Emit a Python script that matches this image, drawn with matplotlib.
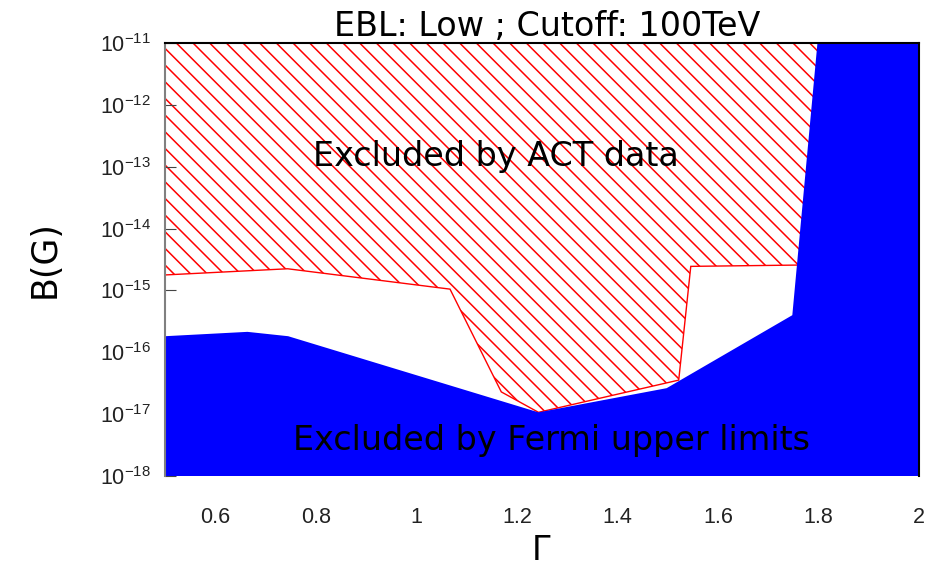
import numpy as np
import matplotlib
matplotlib.use("Agg")
import matplotlib.pyplot as plt
from matplotlib.ticker import FixedLocator, FuncFormatter

# Fermi-Grenze (blaue Flaeche, Obergrenze)
fermi_gamma = [0.5, 0.664, 0.745, 1.243, 1.498, 1.748, 1.798, 2.0]
fermi_B = [1.82e-16, 2.14e-16, 1.82e-16, 1.07e-17, 2.63e-17, 3.98e-16, 1e-11, 1e-11]

# ACT-Grenze (schraffierte Flaeche, Untergrenze)
act_gamma = [0.5, 0.744, 1.067, 1.169, 1.243, 1.522, 1.546, 1.756, 1.85]
act_B = [1.78e-15, 2.24e-15, 1.05e-15, 2.29e-17, 1.07e-17, 3.55e-17, 2.45e-15, 2.57e-15, 2.57e-15]

x_ticks = [0.6, 0.8, 1.0, 1.2, 1.4, 1.6, 1.8, 2.0]
x_labels = ['0.6', '0.8', '1', '1.2', '1.4', '1.6', '1.8', '2']
y_exps = [-18, -17, -16, -15, -14, -13, -12, -11]

y_min, y_max = 1e-18, 1e-11

plt.rcParams['hatch.linewidth'] = 1.1

fig = plt.figure(figsize=(9.44, 5.66), dpi=100)
ax = fig.add_axes([0.1748, 0.159, 0.7987, 0.765])
ax.set_yscale('log')
ax.set_xlim(0.5, 2.0)
ax.set_ylim(y_min, y_max)

# ACT-Polygon: Untergrenze und dann oben zurueck
act_x = act_gamma + [act_gamma[-1], act_gamma[0]]
act_y = act_B + [y_max, y_max]
ax.fill(act_x, act_y, facecolor='white', edgecolor='red', hatch='\\\\',
        linewidth=1.0, zorder=1)

# Fermi-Polygon: Obergrenze und dann unten zurueck
f_x = fermi_gamma + [fermi_gamma[-1], fermi_gamma[0]]
f_y = fermi_B + [y_min, y_min]
ax.fill(f_x, f_y, facecolor='blue', edgecolor='none', zorder=2)

ax.text(1.159, 1.45e-13, 'Excluded by ACT data', fontsize=24,
        family='DejaVu Sans', ha='center', va='center', zorder=3)
ax.text(1.269, 3.8e-18, 'Excluded by Fermi upper limits', fontsize=24,
        family='DejaVu Sans', ha='center', va='center', zorder=3)

# Achsen
ax.xaxis.set_major_locator(FixedLocator(x_ticks))
ax.set_xticklabels(x_labels)
ax.yaxis.set_major_locator(FixedLocator([10.0 ** e for e in y_exps]))
ax.yaxis.set_major_formatter(FuncFormatter(
    lambda v, p: r'$\mathregular{10^{%d}}$' % int(round(np.log10(v)))))
ax.yaxis.set_minor_locator(FixedLocator([]))
ax.xaxis.set_minor_locator(FixedLocator([]))

for lab in ax.get_xticklabels() + ax.get_yticklabels():
    lab.set_family('Liberation Sans')
    lab.set_fontsize(15.5)
    lab.set_color('#222222')

ax.tick_params(axis='x', direction='in', length=0, pad=22)
ax.tick_params(axis='y', direction='in', length=8, pad=10, color='#444444')
ax.tick_params(axis='both', top=False, right=False)

ax.spines['left'].set_color('#808080')
ax.spines['left'].set_linewidth(1.5)
ax.spines['top'].set_linewidth(1.5)
ax.spines['right'].set_linewidth(1.5)
ax.spines['bottom'].set_visible(False)
for s in ax.spines.values():
    s.set_zorder(4)

ax.set_xlabel('Γ', fontsize=24, family='DejaVu Sans')
ax.set_ylabel('B(G)', fontsize=25, family='DejaVu Sans')
ax.xaxis.set_label_coords(0.499, -0.135)
ax.yaxis.set_label_coords(-0.137, 0.5)
ax.set_title('EBL: Low ; Cutoff: 100TeV', fontsize=24, family='DejaVu Sans',
             pad=4, x=0.507)

fig.savefig('out.png', dpi=100)
